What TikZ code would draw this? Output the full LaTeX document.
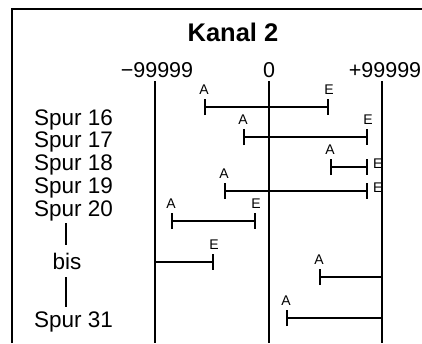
\documentclass[tikz,border=0pt]{standalone}
\usepackage{fontspec}
\setmainfont{Liberation Sans}
\usetikzlibrary{arrows.meta,positioning}

\begin{document}
\begin{tikzpicture}[x=1pt,y=-1pt,
  axis/.style={line width=2.4pt},
  span/.style={line width=2pt},
  tk/.style={{Bar[width=16pt]}-{Bar[width=16pt]}},
  spur/.style={font=\fontsize{22.5}{24}\selectfont, inner sep=0pt, anchor=base west},
  num/.style={font=\fontsize{21.5}{24}\selectfont, inner sep=0pt, anchor=base},
  lbl/.style={font=\fontsize{14}{15}\selectfont, inner sep=0pt}]
\useasboundingbox (0,0) rectangle (422,343);
\draw[line width=2pt] (12,343) -- (12,9) -- (422,9);
\node[font=\bfseries\fontsize{25.5}{28}\selectfont, inner sep=0pt, anchor=base] (title) at (233,41) {Kanal 2};
\foreach \nm/\x/\txt in {min/157/−99999, null/269/0, max/385/+99999}
  \node[num] (\nm) at (\x,77) {\txt};
\foreach \nm/\x in {l/155, m/269, r/382} {
  \coordinate (\nm-top) at (\x,81);
  \coordinate (\nm-bot) at (\x,343);
  \draw[axis] (\nm-top) -- (\nm-bot);
}
\foreach \n/\y in {16/125, 17/147, 18/170, 19/193, 20/216, 31/327}
  \node[spur] (s\n) at (34,\y) {Spur \n};
\node[spur, anchor=base] (bis) at (67,269) {bis};
\coordinate (b1) at (66,223); \coordinate (b2) at (66,245);
\coordinate (b3) at (66,277); \coordinate (b4) at (66,307);
\draw[span] (b1) -- (b2) (b3) -- (b4);
\foreach \n/\y/\a/\e in {16/107/204/329, 17/137/243/368, 20/221/171/256} {
  \coordinate (a\n) at (\a,\y);
  \coordinate (e\n) at (\e,\y);
  \draw[span, tk] (a\n) -- (e\n);
  \node[lbl, above=12pt of a\n] (la\n) {A};
  \node[lbl, above=12pt of e\n] (le\n) {E};
}
\foreach \n/\y/\a in {18/167/330, 19/191/224} {
  \coordinate (a\n) at (\a,\y);
  \coordinate (e\n) at (368,\y);
  \draw[span, tk] (a\n) -- (e\n);
  \node[lbl, above=12pt of a\n] (la\n) {A};
  \node[lbl, anchor=west] (le\n) at ([xshift=5pt,yshift=3.5pt]e\n) {E};
}
\coordinate (e-bis) at (214,262);
\draw[span, -{Bar[width=16pt]}] (l-top |- e-bis) -- (e-bis);
\node[lbl, above=12pt of e-bis] (le-bis) {E};
\coordinate (a-bis) at (319,277);
\draw[span, {Bar[width=16pt]}-] (a-bis) -- (r-top |- a-bis);
\node[lbl, above=12pt of a-bis] (la-bis) {A};
\coordinate (a31) at (286,318);
\draw[span, {Bar[width=16pt]}-] (a31) -- (r-top |- a31);
\node[lbl, above=12pt of a31] (la31) {A};
\end{tikzpicture}
\end{document}
